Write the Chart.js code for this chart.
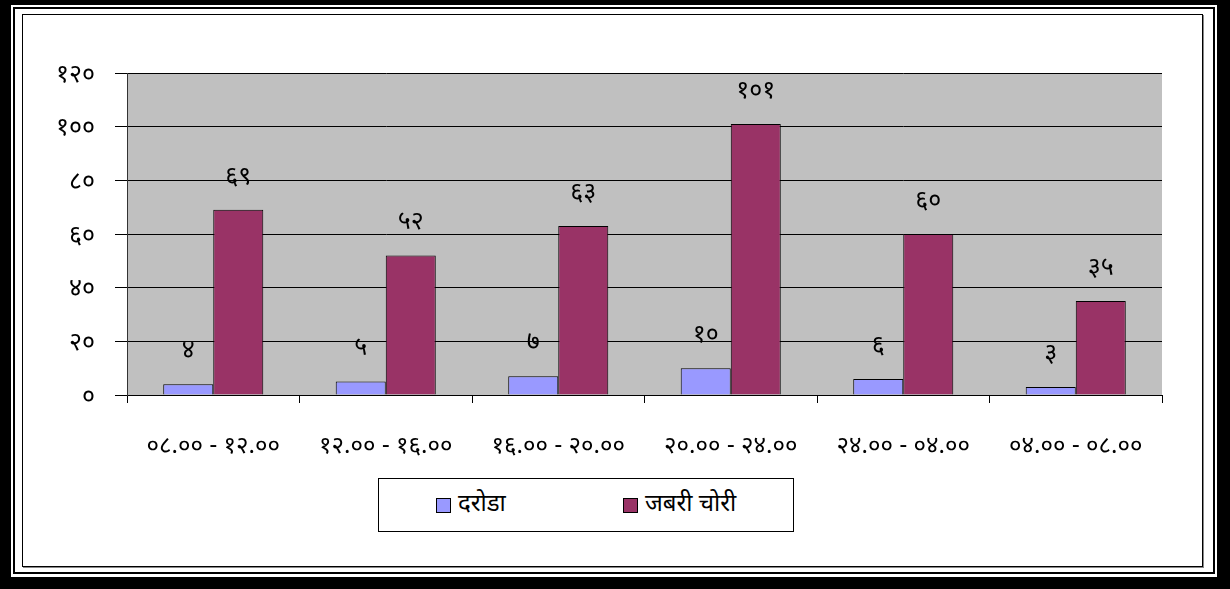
<!DOCTYPE html>
<html>
<head>
<meta charset="utf-8">
<script src="https://cdn.jsdelivr.net/npm/chart.js@4.4.0/dist/chart.umd.min.js"></script>
<style>
  body { margin: 0; width: 1230px; height: 589px; background: #000; position: relative; overflow: hidden;
         font-family: "Noto Sans Devanagari", "Lohit Devanagari", "Noto Sans", "FreeSans", sans-serif; }
  .band  { position: absolute; left: 11px; top: 5px; width: 1206px; height: 572px; background: #fff; }
  .line  { position: absolute; left: 13px; top: 7px; width: 1202px; height: 567px; border: 2px solid #000; box-sizing: border-box; }
  .frame { position: absolute; left: 22px; top: 14px; width: 1181px; height: 553px; border: 1px solid #000;
           box-shadow: 1px 1px 0 #888; box-sizing: border-box; background: #fff; }
  canvas { position: absolute; left: 0; top: 0; }
  #legend { position: absolute; left: 378px; top: 478px; width: 416px; height: 54px; border: 1px solid #000;
            box-sizing: border-box; background: #fff; font-size: 24px; color: #000; }
  #legend .item { position: absolute; top: 0; height: 52px; display: flex; align-items: center; }
  #legend .box { width: 13px; height: 13px; border: 1px solid #000; margin-right: 7px; }
</style>
</head>
<body>
<div class="band"></div>
<div class="line"></div>
<div class="frame"></div>
<canvas id="chart" width="1230" height="589"></canvas>
<div id="legend"></div>

<script>
// -------- DATOS --------
const categories = [
  "०८.०० - १२.००",
  "१२.०० - १६.००",
  "१६.०० - २०.००",
  "२०.०० - २४.००",
  "२४.०० - ०४.००",
  "०४.०० - ०८.००",
];
const seriesNames = ["दरोडा", "जबरी चोरी"];
const darodaValues = [4, 5, 7, 10, 6, 3];
const jabariValues = [69, 52, 63, 101, 60, 35];
const seriesColors = ["#9999FF", "#993366"];
const yMin = 0;
const yMax = 120;
const yStep = 20;

const FONT = '"Noto Sans Devanagari", "Lohit Devanagari", "Noto Sans", "FreeSans", sans-serif';

// अंक -> देवनागरी
function toDev(n) {
  const d = "०१२३४५६७८९";
  return String(n).replace(/[0-9]/g, (c) => d[+c]);
}

// fondo gris del area de trazado
const plotBg = {
  id: "plotBg",
  beforeDraw(chart) {
    const { ctx, chartArea: a } = chart;
    ctx.save();
    ctx.fillStyle = "#C0C0C0";
    ctx.fillRect(a.left, a.top, a.right - a.left, a.bottom - a.top);
    ctx.restore();
  },
};

// etiquetas encima de las barras
const barLabels = {
  id: "barLabels",
  afterDatasetsDraw(chart) {
    const ctx = chart.ctx;
    ctx.save();
    ctx.font = "25px " + FONT;
    ctx.fillStyle = "#000";
    ctx.textAlign = "center";
    ctx.textBaseline = "middle";
    chart.data.datasets.forEach((ds, i) => {
      chart.getDatasetMeta(i).data.forEach((bar, j) => {
        ctx.fillText(toDev(ds.data[j]), bar.x, bar.y - 31);
      });
    });
    ctx.restore();
  },
};

const datasets = [darodaValues, jabariValues].map((vals, i) => ({
  label: seriesNames[i],
  data: vals,
  backgroundColor: seriesColors[i],
  borderColor: "#000",
  borderWidth: 1,
  categoryPercentage: 0.58,
  barPercentage: 1.0,
}));

new Chart(document.getElementById("chart"), {
  type: "bar",
  data: { labels: categories, datasets },
  plugins: [plotBg, barLabels],
  options: {
    responsive: false,
    animation: false,
    layout: { padding: { left: 0, top: 73, right: 68, bottom: 0 } },
    plugins: { legend: { display: false }, tooltip: { enabled: false } },
    scales: {
      x: {
        offset: true,
        grid: { offset: true, drawOnChartArea: false, drawTicks: true, tickLength: 8, color: "#000" },
        border: { color: "#000", width: 1 },
        ticks: { color: "#000", font: { family: FONT, size: 24 }, padding: 31, maxRotation: 0 },
        afterFit: (s) => { s.height = 194; },
      },
      y: {
        min: yMin,
        max: yMax,
        ticks: { stepSize: yStep, color: "#000", font: { family: FONT, size: 25 }, padding: 20,
                 labelOffset: 4, callback: (v) => toDev(v) },
        grid: { color: "#000", lineWidth: 1, tickLength: 12 },
        border: { color: "#333", width: 1 },
        afterFit: (s) => { s.width = 127; },
      },
    },
  },
});

// leyenda
const legend = document.getElementById("legend");
const legendX = [57, 244];
seriesNames.forEach((name, i) => {
  const item = document.createElement("div");
  item.className = "item";
  item.style.left = legendX[i] + "px";
  item.innerHTML = `<span class="box" style="background:${seriesColors[i]}"></span><span>${name}</span>`;
  legend.appendChild(item);
});
</script>
</body>
</html>
